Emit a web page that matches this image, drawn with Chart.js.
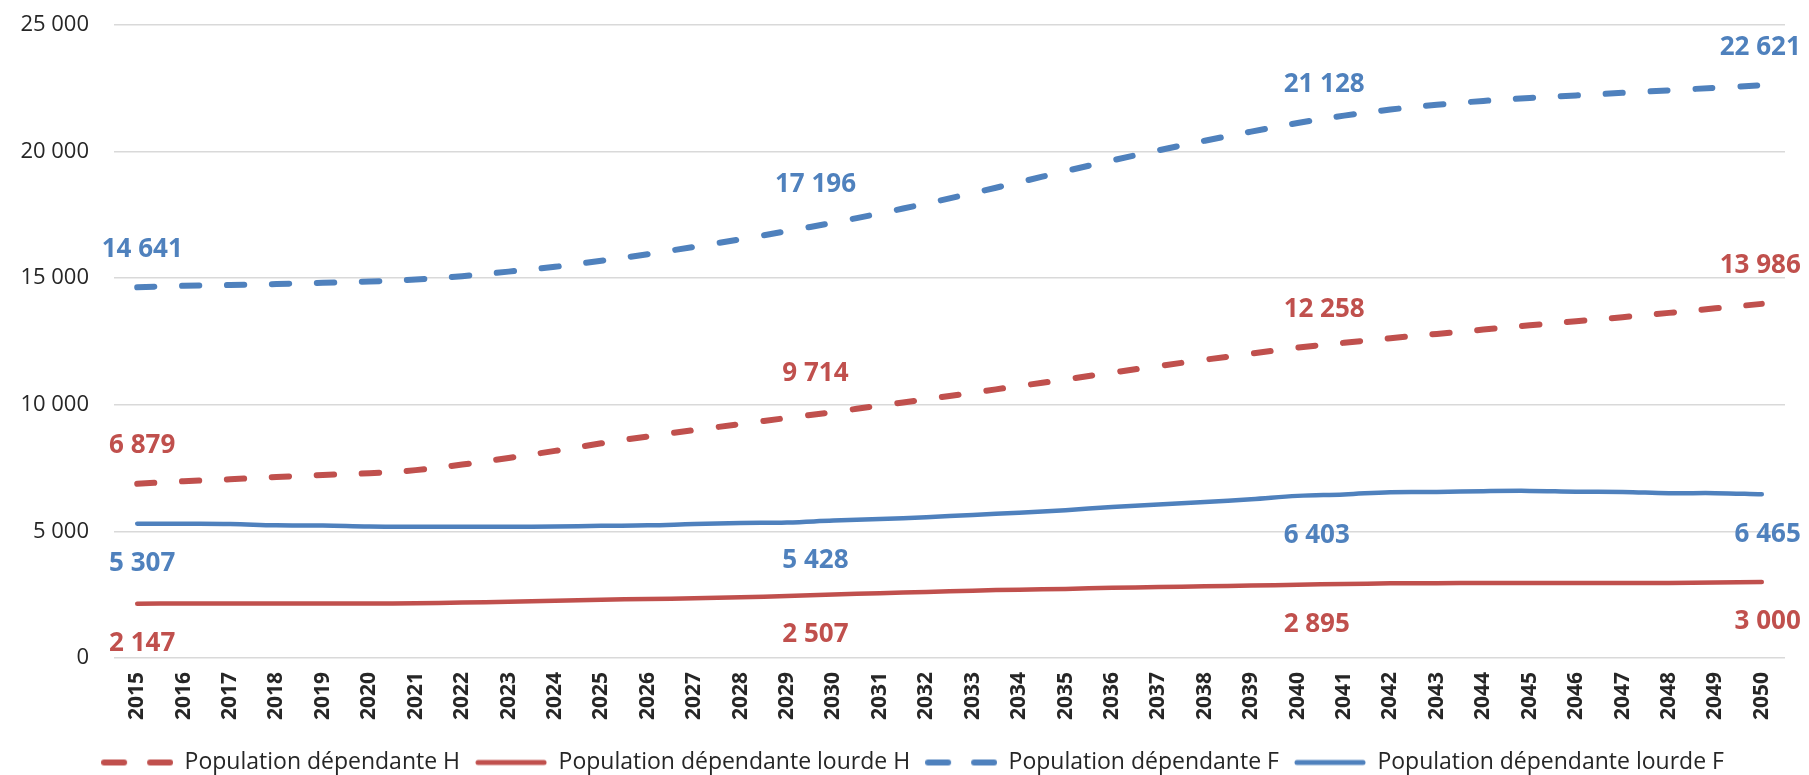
<!DOCTYPE html>
<html>
<head>
<meta charset="utf-8">
<script src="https://cdn.jsdelivr.net/npm/chart.js@4.4.1/dist/chart.umd.min.js"></script>
<style>
  html, body { margin: 0; padding: 0; background: #fff; }
</style>
</head>
<body>
<canvas id="myChart" width="1809" height="775"></canvas>
<script>
// données
var years = ['2015','2016','2017','2018','2019','2020','2021','2022','2023','2024','2025','2026',
             '2027','2028','2029','2030','2031','2032','2033','2034','2035','2036','2037','2038',
             '2039','2040','2041','2042','2043','2044','2045','2046','2047','2048','2049','2050'];

var depH    = [6879, 6980, 7060, 7150, 7230, 7300, 7420, 7640, 7900, 8180, 8480, 8750,
               9000, 9240, 9480, 9714, 9970, 10220, 10480, 10740, 11000, 11270, 11530, 11780,
               12020, 12258, 12450, 12630, 12800, 12970, 13140, 13300, 13460, 13630, 13810, 13986];
var lourdeH = [2147, 2150, 2150, 2150, 2150, 2150, 2160, 2190, 2220, 2260, 2300, 2330,
               2360, 2400, 2450, 2507, 2560, 2610, 2660, 2700, 2730, 2770, 2800, 2830,
               2860, 2895, 2920, 2950, 2955, 2960, 2960, 2960, 2960, 2965, 2985, 3000];
var depF    = [14641, 14700, 14730, 14770, 14820, 14870, 14950, 15080, 15260, 15450, 15690, 15950,
               16240, 16540, 16860, 17196, 17560, 17950, 18360, 18790, 19230, 19650, 20050, 20430,
               20790, 21128, 21420, 21660, 21850, 22000, 22120, 22220, 22320, 22420, 22520, 22621];
var lourdeF = [5307, 5300, 5290, 5240, 5230, 5190, 5180, 5180, 5180, 5190, 5220, 5240,
               5290, 5330, 5350, 5428, 5490, 5560, 5650, 5740, 5840, 5960, 6060, 6160,
               6270, 6403, 6460, 6550, 6560, 6590, 6600, 6570, 6560, 6510, 6510, 6465];

var seriesNames = ['Population dépendante H', 'Population dépendante lourde H',
                   'Population dépendante F', 'Population dépendante lourde F'];
var labelYears = ['2015', '2030', '2040', '2050'];

var ROUGE = '#C0504D';
var BLEU  = '#4F81BD';

function fmt(v){
	return String(v).replace(/\B(?=(\d{3})+(?!\d))/g, ' ');
}

// petits symboles de légende (tirets / trait plein)
function makeSymbol(color, dashed){
	var c = document.createElement('canvas');
	c.width = 72; c.height = 10;
	var g = c.getContext('2d');
	g.strokeStyle = color;
	g.lineCap = 'round';
	g.beginPath();
	if (dashed) {
		g.lineWidth = 6;
		g.moveTo(3, 5); g.lineTo(23, 5);
		g.moveTo(49, 5); g.lineTo(69, 5);
	} else {
		g.lineWidth = 5;
		g.moveTo(3, 5); g.lineTo(69, 5);
	}
	g.stroke();
	return c;
}
var legendSymbols = [makeSymbol(ROUGE, true), makeSymbol(ROUGE, false),
                     makeSymbol(BLEU, true), makeSymbol(BLEU, false)];

// étiquettes de valeurs sur 2015, 2030, 2040, 2050
var valueLabels = {
	id: 'valueLabels',
	afterLayout: function(chart, args, opts){
		// légende un peu décalée vers la droite, comme dans l'original
		chart.legend.left += opts.legendShift;
		chart.legend.right += opts.legendShift;
	},
	afterDatasetsDraw: function(chart, args, opts){
		var ctx = chart.ctx;
		chart.data.datasets.forEach(function(ds, di){
			var meta = chart.getDatasetMeta(di);
			labelYears.forEach(function(yr, k){
				var idx = years.indexOf(yr);
				var pt = meta.data[idx];
				var dy = ds.borderDash.length ? opts.above : opts.below;
				ctx.save();
				ctx.font = opts.font;
				ctx.fillStyle = ds.borderColor;
				ctx.textAlign = opts.align[k];
				ctx.textBaseline = 'middle';
				ctx.fillText(fmt(ds.data[idx]), pt.x + opts.dx[k], pt.y + dy);
				ctx.restore();
			});
		});
	}
};

function lineSet(name, data, color, dashed){
	return {
		label: name,
		data: data,
		borderColor: color,
		backgroundColor: color,
		borderWidth: dashed ? 6 : 4.5,
		borderDash: dashed ? [17, 28] : [],
		borderCapStyle: 'round',
		pointRadius: 0,
		tension: 0.4,
		fill: false
	};
}

var ctx1 = document.getElementById('myChart').getContext('2d');
var myChart = new Chart(ctx1, {
	type: 'line',
	data: {
		labels: years,
		datasets: [
			lineSet(seriesNames[0], depH, ROUGE, true),
			lineSet(seriesNames[1], lourdeH, ROUGE, false),
			lineSet(seriesNames[2], depF, BLEU, true),
			lineSet(seriesNames[3], lourdeF, BLEU, false)
		]
	},
	options: {
		responsive: false,
		animation: false,
		layout: { padding: { left: 0, right: 24, top: 25, bottom: -9 } },
		scales: {
			x: {
				offset: true,
				grid: { display: false, drawTicks: false },
				border: { display: false },
				ticks: {
					autoSkip: false, minRotation: 90, maxRotation: 90, padding: 14,
					color: '#262626',
					font: { family: 'Open Sans', size: 21, weight: 'bold' }
				},
				afterFit: function(s){ s.height = 78; s.paddingLeft = 0; s.paddingRight = 0; }
			},
			y: {
				min: 0, max: 25000,
				grid: { color: '#D9D9D9', lineWidth: 1.5, drawTicks: false },
				border: { display: false },
				ticks: {
					stepSize: 5000, padding: 25, color: '#262626',
					font: { family: 'Open Sans', size: 22 },
					callback: function(v){ return fmt(v); }
				},
				afterFit: function(s){ s.width = 114; s.paddingTop = 0; s.paddingBottom = 0; }
			}
		},
		plugins: {
			tooltip: { enabled: false },
			legend: {
				position: 'bottom',
				labels: {
					usePointStyle: true,
					pointStyleWidth: 72,
					boxHeight: 10,
					padding: 15,
					color: '#262626',
					font: { family: 'Open Sans', size: 23 },
					generateLabels: function(chart){
						var items = Chart.defaults.plugins.legend.labels.generateLabels(chart);
						items.forEach(function(it, i){ it.pointStyle = legendSymbols[i]; });
						return items;
					}
				}
			},
			valueLabels: {
				font: 'bold 26px "Open Sans"',
				above: -38,
				below: 40,
				align: ['center', 'center', 'left', 'right'],
				dx: [5, -18, -14, 39],
				legendShift: 20
			}
		}
	},
	plugins: [valueLabels]
});
</script>
</body>
</html>
